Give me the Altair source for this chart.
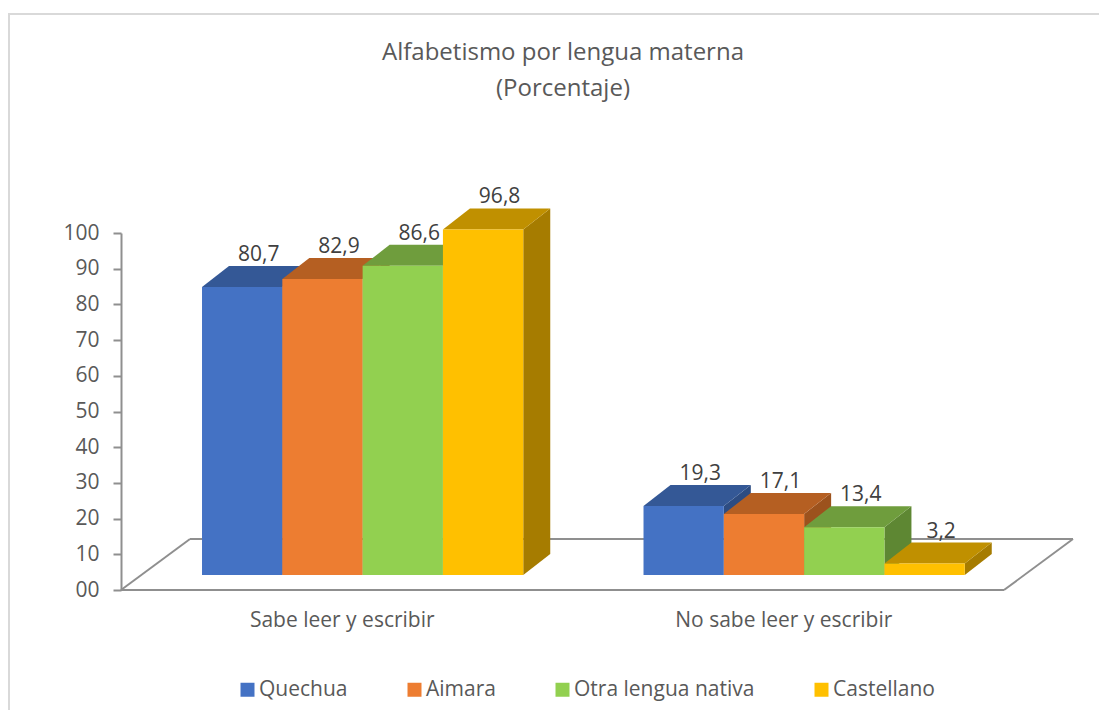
import altair as alt
import pandas as pd

# ---------------- data ----------------
categories = ["Sabe leer y escribir", "No sabe leer y escribir"]
series = ["Quechua", "Aimara", "Otra lengua nativa", "Castellano"]
quechua = [80.7, 19.3]
aimara = [82.9, 17.1]
otra_lengua = [86.6, 13.4]
castellano = [96.8, 3.2]
series_values = [quechua, aimara, otra_lengua, castellano]
y_ticks = [0, 10, 20, 30, 40, 50, 60, 70, 80, 90, 100]
title_lines = ["Alfabetismo por lengua materna", "(Porcentaje)"]

# ---------------- style ----------------
front_colors = ["#4472C4", "#ED7D31", "#92D050", "#FFC000"]
top_colors = ["#345896", "#B55F22", "#6F9D3D", "#C09000"]
side_colors = ["#2D4C82", "#9C521D", "#5E8733", "#A67C00"]
TEXT = "#595959"
LINE = "#8f8f8f"
FONT = "Open Sans"

W, H = 952, 357
CAT_PX = 441.5                 # pixels per category on the front plane
PXU = H / 100.0                # pixels per value unit
XMAX = W / CAT_PX
GAP = 0.1365                   # category fraction before first bar
BW = 0.1819                    # bar width (category fraction)
FRONT_DX, FRONT_DY = 20.75 / CAT_PX, 15 / PXU
BAR_DX, BAR_DY = 27 / CAT_PX, 21 / PXU
FLOOR_DX, FLOOR_DY = 69 / CAT_PX, 51 / PXU

X_SCALE = alt.Scale(domain=[0, XMAX], nice=False, zero=False)
Y_SCALE = alt.Scale(domain=[0, 100], nice=False, zero=False)

cat_expr = "datum.value < 1 ? '%s' : '%s'" % (categories[0], categories[1])
X_AXIS = alt.Axis(
    values=[0.5, 1.5], labelExpr=cat_expr, ticks=False, domain=False, grid=False,
    title=None, labelPadding=30, labelFont=FONT, labelFontSize=21, labelColor=TEXT,
    labelOverlap=False, labelFlush=False, labelBaseline="middle", labelLimit=400)
Y_AXIS = alt.Axis(
    values=y_ticks, labelExpr="datum.value == 0 ? '00' : datum.label",
    grid=False, title=None, domainColor=LINE, domainWidth=2, tickColor=LINE,
    tickWidth=2, tickSize=8, labelPadding=14, labelFont=FONT, labelFontSize=21,
    labelColor=TEXT, labelOverlap=False, labelFlush=False)

fronts, tops, sides, labels = [], [], [], []
for ci, cat in enumerate(categories):
    for si, s in enumerate(series):
        v = series_values[si][ci]
        x0 = ci + GAP + si * BW + FRONT_DX
        x1 = x0 + BW
        base = FRONT_DY
        top = base + v
        bid = f"{ci}-{si}"
        fronts.append(dict(bar=bid, serie=s, x=x0, x2=x1, y=base, y2=top))
        tc = top_colors[si]
        tops += [
            dict(bar=bid, c=tc, x=x0, y=top, y2=top),
            dict(bar=bid, c=tc, x=x0 + BAR_DX, y=top + BAR_DY, y2=top),
            dict(bar=bid, c=tc, x=x1, y=top + BAR_DY, y2=top),
            dict(bar=bid, c=tc, x=x1 + BAR_DX, y=top + BAR_DY, y2=top + BAR_DY),
        ]
        sc = side_colors[si]
        sides += [
            dict(bar=bid, c=sc, x=x1, y=top, y2=base),
            dict(bar=bid, c=sc, x=x1 + BAR_DX, y=top + BAR_DY, y2=base + BAR_DY),
        ]
        labels.append(dict(x=(x0 + x1) / 2 + BAR_DX / 2, y=top + BAR_DY,
                           t=f"{v:.1f}".replace(".", ",")))

n = len(categories)
floor = pd.DataFrame([
    dict(x=0, y=0, x2=n, y2=0),
    dict(x=0, y=0, x2=FLOOR_DX, y2=FLOOR_DY),
    dict(x=FLOOR_DX, y=FLOOR_DY, x2=n + FLOOR_DX, y2=FLOOR_DY),
    dict(x=n + FLOOR_DX, y=FLOOR_DY, x2=n, y2=0),
])

fronts = pd.DataFrame(fronts)
tops = pd.DataFrame(tops)
sides = pd.DataFrame(sides)
labels = pd.DataFrame(labels)

one = alt.Data(values=[{"a": 1}])

frame = alt.Chart(one).mark_rect(fill="transparent", stroke="#d9d9d9", strokeWidth=2).encode(
    x=alt.value(-112), x2=alt.value(W + 60), y=alt.value(-219), y2=alt.value(H + 200)
)

title = alt.Chart(one).mark_text(
    text=title_lines, font=FONT, fontSize=24, color=TEXT, align="center",
    baseline="alphabetic", lineHeight=36
).encode(x=alt.value(442), y=alt.value(-173))

floor_l = alt.Chart(floor).mark_rule(color=LINE, strokeWidth=2).encode(
    x=alt.X("x:Q", scale=X_SCALE, axis=X_AXIS),
    x2="x2:Q",
    y=alt.Y("y:Q", scale=Y_SCALE, axis=Y_AXIS),
    y2="y2:Q",
)

side_l = alt.Chart(sides).mark_area(opacity=1, interpolate="linear").encode(
    x=alt.X("x:Q", scale=X_SCALE, axis=X_AXIS),
    y=alt.Y("y:Q", scale=Y_SCALE, axis=Y_AXIS, stack=False),
    y2="y2:Q",
    detail="bar:N",
    color=alt.Color("c:N", scale=None),
)

top_l = alt.Chart(tops).mark_area(opacity=1, interpolate="linear").encode(
    x=alt.X("x:Q", scale=X_SCALE, axis=X_AXIS),
    y=alt.Y("y:Q", scale=Y_SCALE, axis=Y_AXIS, stack=False),
    y2="y2:Q",
    detail="bar:N",
    color=alt.Color("c:N", scale=None),
)

front_l = alt.Chart(fronts).mark_rect(opacity=1).encode(
    x=alt.X("x:Q", scale=X_SCALE, axis=X_AXIS),
    x2="x2:Q",
    y=alt.Y("y:Q", scale=Y_SCALE, axis=Y_AXIS),
    y2="y2:Q",
    color=alt.Color("serie:N", scale=alt.Scale(domain=series, range=front_colors),
                    legend=alt.Legend(
                        orient="none", legendX=116, legendY=446, direction="horizontal",
                        columns=4, title=None, symbolType="square", symbolSize=196,
                        symbolStrokeWidth=0, labelFont=FONT, labelFontSize=21,
                        labelColor=TEXT, columnPadding=56, labelOffset=1,
                        labelLimit=400)),
)

label_l = alt.Chart(labels).mark_text(
    font=FONT, fontSize=21, color="#404040", align="center", baseline="alphabetic", dy=-5, dx=3
).encode(
    x=alt.X("x:Q", scale=X_SCALE, axis=X_AXIS),
    y=alt.Y("y:Q", scale=Y_SCALE, axis=Y_AXIS),
    text="t:N",
)

chart = alt.layer(frame, title, floor_l, side_l, top_l, front_l, label_l).properties(
    width=W, height=H,
    autosize=alt.AutoSizeParams(type="none"),
    padding={"left": 113, "top": 225, "right": 26, "bottom": 120},
).configure(font=FONT).configure_view(stroke="transparent")

chart.save("out.html", embed_options={"renderer": "svg", "actions": False})
